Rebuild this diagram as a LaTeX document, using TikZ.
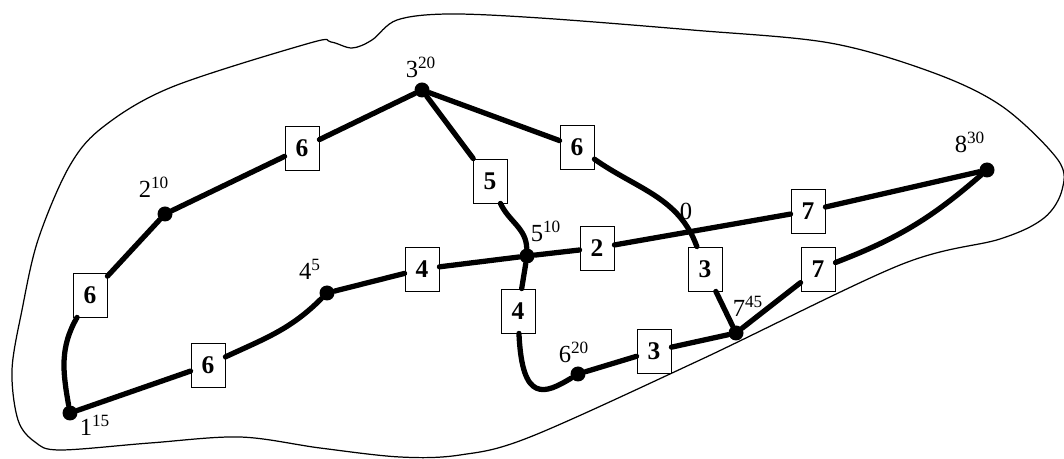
\documentclass[tikz,border=0pt]{standalone}
\usepackage{fontspec}
\setmainfont{Liberation Serif}
\usepackage{tikz}
\usetikzlibrary{positioning}

\begin{document}
\begin{tikzpicture}[x=0.02cm, y=0.02cm,
    vertex/.style={circle, fill=black, inner sep=0pt, minimum size=0.3cm},
    weight/.style={draw, fill=white, line width=0.5pt, inner sep=0pt,
        minimum width=0.68cm, minimum height=0.88cm,
        font=\fontsize{14.5}{16}\selectfont\bfseries},
    lab/.style={inner sep=0pt, font=\fontsize{14}{16}\selectfont},
    edge/.style={line width=3pt, line cap=round}]

\useasboundingbox (0,0) rectangle (1064,459);

% === outer region ===
\draw[line width=0.7pt] plot[smooth cycle, tension=0.55] coordinates {
    (540,441) (448,445) (397,439) (372,419) (352,411) (331,417) (310,416)
    (172,372) (103,332) (69,292) (38,219) (22,149) (12,89) (18,39) (35,17)
    (60,9) (150,16) (240,22) (320,11) (400,2) (460,4) (530,22) (700,99)
    (900,194) (1000,220) (1044,241) (1062,269) (1058,299) (1003,352)
    (934,386) (830,416) (692,429)};

% === vertices ===
\node[vertex] (n1) at (70,46) {};
\node[vertex] (n2) at (165,245) {};
\node[vertex] (n3) at (422,369) {};
\node[vertex] (n4) at (327,166) {};
\node[vertex] (n5) at (527,203) {};
\node[vertex] (n6) at (578,85) {};
\node[vertex] (n7) at (736,126) {};
\node[vertex] (n8) at (987,289) {};

% vertex labels
\node[lab] (l1) at (95,34) {1\textsuperscript{15}};
\node[lab] (l2) at (154,272) {2\textsuperscript{10}};
\node[lab] (l3) at (421,392) {3\textsuperscript{20}};
\node[lab] (l4) at (310,190) {4\textsuperscript{5}};
\node[lab] (l5) at (546,228) {5\textsuperscript{10}};
\node[lab] (l6) at (574,107) {6\textsuperscript{20}};
\node[lab] (l7) at (748,153) {7\textsuperscript{45}};
\node[lab] (l8) at (970,317) {8\textsuperscript{30}};
\node[lab] (l0) at (686,248) {0};

% === weights ===
\node[weight] (w12) at (90,164) {6};
\node[weight] (w23) at (302,311) {6};
\node[weight] (w35) at (490,278) {5};
\node[weight] (w37a) at (577,312) {6};
\node[weight] (w37b) at (705,190) {3};
\node[weight] (w58a) at (597,211) {2};
\node[weight] (w58b) at (808,248) {7};
\node[weight] (w78) at (818,190) {7};
\node[weight] (w67) at (654,108) {3};
\node[weight] (w56) at (518,148) {4};
\node[weight] (w45) at (422,190) {4};
\node[weight] (w14) at (208,94) {6};

% === edges ===
\draw[edge] (n1) to[out=100, in=240] (w12);
\draw[edge] (w12) -- (n2);
\draw[edge] (n2) -- (w23) -- (n3);
\draw[edge] (n3) -- (w35);
\draw[edge] (w35) to[out=-65, in=92] (n5);
\draw[edge] (n3) -- (w37a);
\draw[edge] (w37a) to[out=-35, in=110] (w37b);
\draw[edge] (w37b) -- (n7);
\draw[edge] (n5) -- (w58a) -- (w58b) -- (n8);
\draw[edge] (n4) -- (w45) -- (n5);
\draw[edge] (n1) -- (w14);
\draw[edge] (w14) to[out=25, in=225] (n4);
\draw[edge] (n5) -- (w56);
\draw[edge] (w56) .. controls (522,55) and (545,65) .. (n6);
\draw[edge] (n6) -- (w67) -- (n7);
\draw[edge] (n7) -- (w78);
\draw[edge] (w78) to[bend right=10] (n8);

\end{tikzpicture}
\end{document}
